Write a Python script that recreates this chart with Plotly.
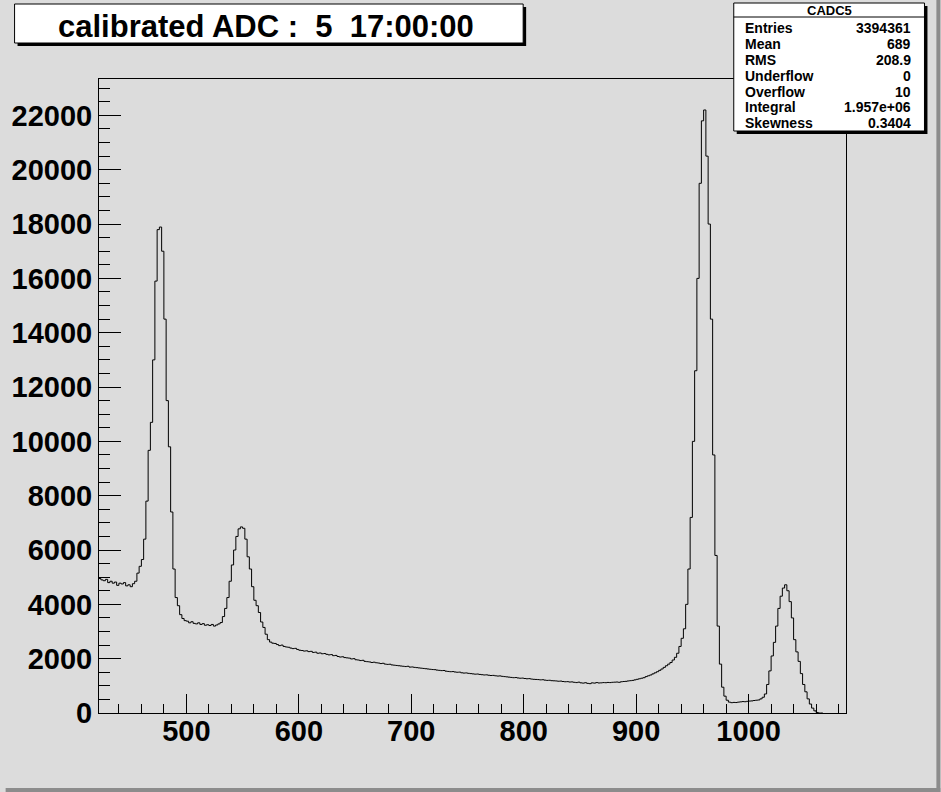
import plotly.graph_objects as go

# ---------------- data ----------------
bin_start = 422
bin_width = 2

counts_422_498 = [4950, 4900, 4870, 4920, 4800, 4850, 4780, 4820, 4700, 4780,
                  4750, 4800, 4680, 4720, 4650, 4760, 4850, 5150, 5400, 5650,
                  6400, 7800, 9670, 10700, 13000, 15900, 17795, 17890, 17000, 14500,
                  11500, 9800, 7400, 5300, 4250, 3950, 3620, 3480, 3400]
counts_500_578 = [3380, 3320, 3360, 3300, 3280, 3320, 3260, 3290, 3230, 3250,
                  3220, 3260, 3200, 3240, 3280, 3330, 3550, 3850, 4250, 4850,
                  5450, 6000, 6500, 6780, 6850, 6800, 6400, 5750, 5300, 4650,
                  4150, 3950, 3700, 3350, 3150, 2900, 2700, 2610, 2570, 2560]
counts_580_678 = [2520, 2480, 2500, 2450, 2430, 2420, 2390, 2370, 2380, 2340,
                  2310, 2300, 2280, 2290, 2260, 2270, 2230, 2240, 2200, 2210,
                  2180, 2190, 2160, 2140, 2150, 2110, 2120, 2080, 2060, 2070,
                  2040, 2030, 2020, 1990, 2000, 1960, 1950, 1930, 1940, 1900,
                  1890, 1880, 1860, 1870, 1850, 1840, 1820, 1830, 1800, 1790]
counts_680_778 = [1795, 1770, 1760, 1750, 1740, 1730, 1720, 1710, 1720, 1690,
                  1695, 1680, 1670, 1660, 1650, 1640, 1630, 1620, 1610, 1600,
                  1595, 1580, 1570, 1560, 1565, 1540, 1530, 1520, 1525, 1510,
                  1500, 1505, 1480, 1470, 1475, 1460, 1450, 1440, 1430, 1435,
                  1420, 1410, 1400, 1405, 1390, 1380, 1385, 1370, 1360, 1365]
counts_780_878 = [1350, 1340, 1330, 1320, 1310, 1300, 1305, 1290, 1280, 1285,
                  1270, 1260, 1265, 1250, 1240, 1235, 1230, 1220, 1225, 1210,
                  1200, 1205, 1190, 1185, 1180, 1170, 1175, 1160, 1150, 1155,
                  1140, 1145, 1130, 1120, 1135, 1110, 1100, 1115, 1090, 1080,
                  1110, 1100, 1120, 1105, 1110, 1120, 1115, 1125, 1120, 1130]
counts_880_978 = [1135, 1140, 1130, 1150, 1160, 1165, 1180, 1190, 1200, 1220,
                  1240, 1260, 1280, 1300, 1340, 1370, 1400, 1440, 1480, 1520,
                  1570, 1620, 1680, 1740, 1800, 1860, 1950, 2050, 2200, 2450,
                  2750, 3100, 4000, 5300, 7200, 10000, 12600, 16000, 19500, 21800,
                  22200, 20500, 18000, 14500, 9500, 5800, 3200, 1800, 950, 620]
counts_980_1064 = [470, 400, 380, 390, 385, 400, 410, 420, 415, 430,
                   440, 445, 460, 470, 480, 520, 580, 700, 1050, 1550,
                   2100, 2600, 3200, 3850, 4300, 4600, 4720, 4500, 4100, 3500,
                   2700, 2250, 1900, 1450, 1050, 780, 520, 330, 180, 80,
                   20, 0, 0]

x_tick_values = [500, 600, 700, 800, 900, 1000]
y_tick_values = [0, 2000, 4000, 6000, 8000, 10000, 12000, 14000, 16000,
                 18000, 20000, 22000]
x_range = [422.3, 1086.6]
y_range = [0, 23340]

title_text = "calibrated ADC :\u00a0 5\u00a0 17:00:00"
stats_name = "CADC5"
stats_labels = ["Entries", "Mean", "RMS", "Underflow", "Overflow", "Integral", "Skewness"]
stats_values = ["3394361", "689", "208.9", "0", "10", "1.957e+06", "0.3404"]

# ---------------- figure ----------------
counts = (counts_422_498 + counts_500_578 + counts_580_678 + counts_680_778
          + counts_780_878 + counts_880_978 + counts_980_1064)
edges = [bin_start + bin_width * i for i in range(len(counts) + 1)]
ys = counts + [counts[-1]]

W, H = 941, 792
L, R, T, B = 94, 846, 79, 713
BG = "#dcdcdc"

fig = go.Figure()
fig.add_trace(go.Scatter(x=edges, y=ys, mode="lines",
                         line=dict(shape="hv", color="black", width=1),
                         hoverinfo="skip", showlegend=False))


def px(xp):
    return (xp - L) / (R - L)


def py(yp):
    return (B - yp) / (B - T)


shapes = []
# canvas bevel
shapes.append(dict(type="rect", xref="paper", yref="paper", x0=px(937), x1=px(941), y0=py(0), y1=py(792),
                   fillcolor="#8c8c8c", line=dict(width=0), layer="below"))
shapes.append(dict(type="rect", xref="paper", yref="paper", x0=px(0), x1=px(941), y0=py(788), y1=py(792),
                   fillcolor="#8c8c8c", line=dict(width=0), layer="below"))

# title pave
tx0, ty0, tx1, ty1 = 9, 4, 521, 43
shapes.append(dict(type="rect", xref="paper", yref="paper", x0=px(tx0 + 3), x1=px(tx1 + 3),
                   y0=py(ty0 + 3), y1=py(ty1 + 3), fillcolor="black", line=dict(width=0), layer="above"))
shapes.append(dict(type="rect", xref="paper", yref="paper", x0=px(tx0), x1=px(tx1),
                   y0=py(ty0), y1=py(ty1), fillcolor="white", line=dict(color="black", width=1), layer="above"))

# stats pave
sx0, sy0, sx1, sy1 = 733, 3, 925, 131
shapes.append(dict(type="rect", xref="paper", yref="paper", x0=px(sx0 + 3), x1=px(sx1 + 3),
                   y0=py(sy0 + 3), y1=py(sy1 + 3), fillcolor="black", line=dict(width=0), layer="above"))
shapes.append(dict(type="rect", xref="paper", yref="paper", x0=px(sx0), x1=px(sx1),
                   y0=py(sy0), y1=py(sy1), fillcolor="white", line=dict(color="black", width=1), layer="above"))
shapes.append(dict(type="line", xref="paper", yref="paper", x0=px(sx0), x1=px(sx1),
                   y0=py(17), y1=py(17), line=dict(color="black", width=1), layer="above"))

annotations = []
annotations.append(dict(text=title_text, xref="paper", yref="paper", x=px((tx0 + tx1) / 2 - 3), y=py(26),
                        xanchor="center", yanchor="middle", showarrow=False,
                        font=dict(family="Liberation Sans", size=31, color="black", weight="bold")))
annotations.append(dict(text=stats_name, xref="paper", yref="paper", x=px((sx0 + sx1) / 2), y=py(10.5),
                        xanchor="center", yanchor="middle", showarrow=False,
                        font=dict(family="Liberation Sans", size=13, color="black", weight="bold")))
row_y = [28, 44, 60, 76, 92, 107, 123]
for lab, val, yy in zip(stats_labels, stats_values, row_y):
    annotations.append(dict(text=lab, xref="paper", yref="paper", x=px(742), y=py(yy),
                            xanchor="left", yanchor="middle", showarrow=False,
                            font=dict(family="Liberation Sans", size=14, color="black", weight="bold")))
    annotations.append(dict(text=val, xref="paper", yref="paper", x=px(913), y=py(yy),
                            xanchor="right", yanchor="middle", showarrow=False,
                            font=dict(family="Liberation Sans", size=14, color="black", weight="bold")))

tickfont = dict(family="Liberation Sans", size=29, color="black", weight="bold")

fig.update_layout(
    width=W, height=H,
    margin=dict(l=L, r=W - R, t=T, b=H - B, pad=0),
    paper_bgcolor=BG, plot_bgcolor=BG,
    showlegend=False,
    shapes=shapes, annotations=annotations,
    xaxis=dict(range=x_range, tickmode="array", tickvals=x_tick_values, tickformat="d",
               ticks="inside", ticklen=19, tickwidth=1, tickcolor="black",
               ticklabelstandoff=-8,
               minor=dict(dtick=20, tick0=400, ticks="inside", ticklen=9, tickwidth=1, tickcolor="black"),
               showline=True, linecolor="black", linewidth=1, mirror=True,
               showgrid=False, zeroline=False, tickfont=tickfont),
    yaxis=dict(range=y_range, tickmode="array", tickvals=y_tick_values, tickformat="d",
               ticks="inside", ticklen=22, tickwidth=1, tickcolor="black",
               minor=dict(dtick=500, tick0=0, ticks="inside", ticklen=11, tickwidth=1, tickcolor="black"),
               showline=True, linecolor="black", linewidth=1, mirror=True,
               showgrid=False, zeroline=False, tickfont=tickfont),
)

fig.write_html("out.html", config={"displayModeBar": False},
               post_script="document.body.style.margin='0';document.body.style.padding='0';")
